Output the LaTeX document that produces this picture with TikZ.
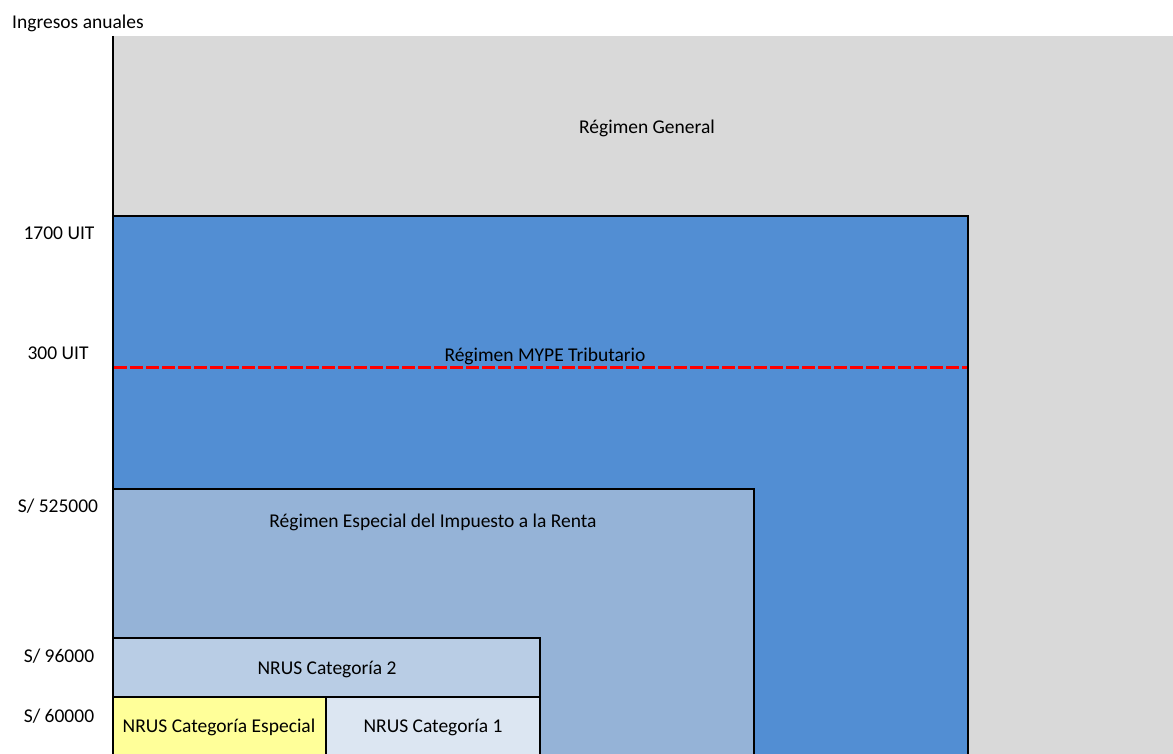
\documentclass[tikz,border=0pt]{standalone}
\usepackage{fontspec}
\setmainfont{Carlito}

\definecolor{generalgray}{HTML}{D9D9D9}
\definecolor{mypeblue}{HTML}{528ED3}
\definecolor{rerblue}{HTML}{95B3D7}
\definecolor{nrusdos}{HTML}{B9CDE5}
\definecolor{nrusuno}{HTML}{DCE6F2}
\definecolor{nrusesp}{HTML}{FFFF99}

\begin{document}
\begin{tikzpicture}[
  x=1pt, y=-1pt,
  edge/.style  = {draw=black, line width=2pt},
  lbl/.style   = {font=\fontsize{19.5}{23}\selectfont, inner sep=0pt, anchor=base},
  limit/.style = {draw=red, line width=3pt, dash pattern=on 13pt off 3pt}
]
  \useasboundingbox (0,0) rectangle (1173,754);

  % Regimen General (fondo)
  \fill[generalgray] (113,36) rectangle (1173,754);
  \draw[edge] (113,36) -- (113,754);

  % Regimen MYPE Tributario
  \fill[mypeblue] (113,216) rectangle (968,754);
  \draw[edge] (113,754) |- (968,216) -- (968,754);
  \draw[limit] (114,367) -- (967,367);

  % Regimen Especial del Impuesto a la Renta
  \fill[rerblue] (113,489) rectangle (754,754);
  \draw[edge] (113,754) |- (754,489) -- (754,754);

  % NRUS
  \fill[nrusdos] (113,638) rectangle (540,697);
  \fill[nrusesp] (113,697) rectangle (326,754);
  \fill[nrusuno] (326,697) rectangle (540,754);
  \draw[edge] (113,754) |- (540,638) -- (540,754);
  \draw[edge] (113,697) -- (540,697);
  \draw[edge] (326,697) -- (326,754);

  % textos de las zonas
  \node[lbl] (general) at (647,134) {Régimen General};
  \node[lbl] (mype)    at (545,361) {Régimen MYPE Tributario};
  \node[lbl] (rer)     at (433,527) {Régimen Especial del Impuesto a la Renta};
  \node[lbl] (cat2)    at (327,674) {NRUS Categoría 2};
  \node[lbl] (catesp)  at (219,732) {NRUS Categoría Especial};
  \node[lbl] (cat1)    at (433,732) {NRUS Categoría 1};

  % eje de ingresos
  \node[lbl] (eje)   at (78,29)   {Ingresos anuales};
  \node[lbl] (u1700) at (59,240)  {1700 UIT};
  \node[lbl] (u300)  at (58,359)  {300 UIT};
  \node[lbl] (s525)  at (58,512)  {S/ 525000};
  \node[lbl] (s96)   at (59,662)  {S/ 96000};
  \node[lbl] (s60)   at (59,722)  {S/ 60000};

\end{tikzpicture}
\end{document}
